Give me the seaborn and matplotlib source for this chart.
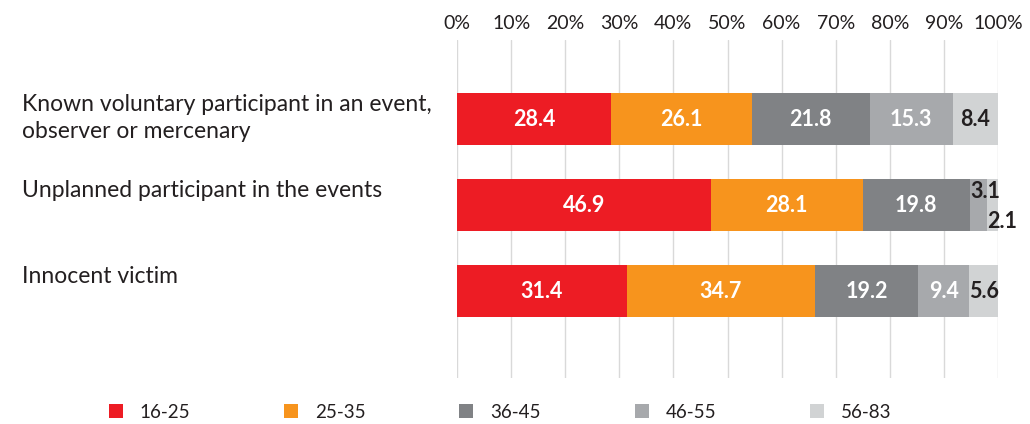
import matplotlib
matplotlib.use("Agg")
import matplotlib.pyplot as plt
import matplotlib.transforms as mtransforms
from matplotlib.patches import Patch
import numpy as np
import pandas as pd
import seaborn as sns

# Share of each age group within each type of involvement (percent)
categories = [
    "Known voluntary participant in an event,\nobserver or mercenary",
    "Unplanned participant in the events",
    "Innocent victim",
]
age_groups = ["16-25", "25-35", "36-45", "46-55", "56-83"]
age_16_25 = [28.4, 46.9, 31.4]
age_25_35 = [26.1, 28.1, 34.7]
age_36_45 = [21.8, 19.8, 19.2]
age_46_55 = [15.3, 3.1, 9.4]
age_56_83 = [8.4, 2.1, 5.6]
tick_labels = ["0%", "10%", "20%", "30%", "40%", "50%", "60%", "70%", "80%", "90%", "100%"]

colors = ["#ED1C24", "#F7941D", "#808285", "#A7A9AC", "#D1D3D4"]
label_colors = ["white", "white", "white", "white", "#231F20"]

sns.set_theme(style="white")
plt.rcParams["font.family"] = ["Lato", "DejaVu Sans"]

series = [age_16_25, age_25_35, age_36_45, age_46_55, age_56_83]
values = np.array(series)
cumulative = np.cumsum(values, axis=0)
starts = cumulative - values

fig = plt.figure(figsize=(10.3, 4.24), dpi=100)
ax = fig.add_axes([457 / 1030, 1 - 378 / 424, 541 / 1030, 338 / 424])

keys = ["a", "b", "c"]
# Stacked bars: draw cumulative totals from the outermost segment inwards
for i in reversed(range(len(age_groups))):
    df = pd.DataFrame({"cat": keys, "value": cumulative[i]})
    sns.barplot(data=df, x="value", y="cat", color=colors[i], saturation=1,
                width=0.6, orient="h", ax=ax, linewidth=0, zorder=3)

ax.set_xlim(0, 100)
ax.set_ylim(3.01, -0.92)
ax.set_xticks(np.arange(0, 101, 10))
ax.set_xticklabels(tick_labels)
ax.xaxis.tick_top()
ax.tick_params(axis="x", length=0, pad=6, labelsize=14, labelcolor="#231F20")
ax.set_yticks([])
ax.set_xlabel("")
ax.set_ylabel("")
for s in ax.spines.values():
    s.set_visible(False)
ax.grid(axis="x", color="#D9D9D9", linewidth=1, zorder=0)
ax.set_axisbelow(True)

# Value labels inside the segments
for i in range(len(age_groups)):
    for j in range(len(categories)):
        v = values[i, j]
        xc = starts[i, j] + v / 2
        yc = j
        color = label_colors[i]
        if j == 1 and i == 3:
            xc, yc, color = starts[i, j] + 2.9, j - 0.16, "#231F20"
        elif j == 1 and i == 4:
            xc, yc, color = starts[i, j] + 2.8, j + 0.19, "#231F20"
        ax.text(xc, yc, f"{v:.1f}", ha="center", va="center", color=color,
                fontsize=15.5, fontweight="bold", zorder=5)

# Category labels at the left margin
trans = mtransforms.blended_transform_factory(fig.transFigure, ax.transData)
for j, cat in enumerate(categories):
    ax.text(22 / 1030, j - 0.29, cat, transform=trans, ha="left", va="top",
            fontsize=16.5, color="#231F20", linespacing=1.35)

handles = [Patch(facecolor=c, edgecolor="none") for c in colors]
fig.legend(handles, age_groups, loc="center", bbox_to_anchor=(500 / 1030, 1 - 412 / 424),
           ncol=5, frameon=False, fontsize=13.5, handlelength=0.75, handleheight=0.75,
           handletextpad=0.9, columnspacing=5.0, labelcolor="#231F20")

fig.savefig("out.png", dpi=100)
